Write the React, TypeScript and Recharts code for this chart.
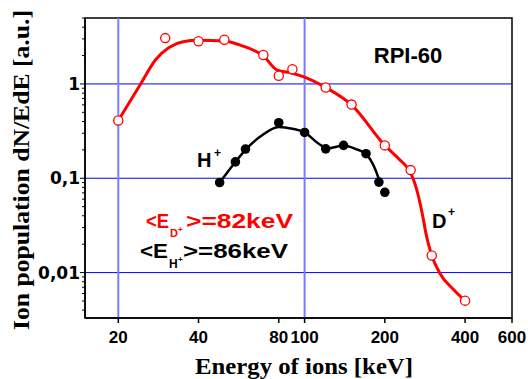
import { ComposedChart, Line, Scatter, XAxis, YAxis, ReferenceLine, ReferenceArea } from "recharts"

// measured points, D+ (open red circles)
const dPointsE = [20, 30, 40, 50, 70, 80, 90, 120, 150, 200, 250, 300, 400]
const dPointsV = [0.41, 3.06, 2.83, 2.94, 2.03, 1.22, 1.43, 0.915, 0.604, 0.223, 0.122, 0.0152, 0.00504]

// measured points, H+ (filled black circles)
const hPointsE = [48, 55, 60, 80, 100, 120, 140, 170, 190, 200]
const hPointsV = [0.09, 0.149, 0.204, 0.388, 0.306, 0.205, 0.223, 0.182, 0.091, 0.071]

// smoothed curves
const dCurveE = [20, 24, 27.7, 31, 35, 40, 50, 58, 70, 79, 90, 100, 120, 150, 200, 227, 250, 262, 276, 287, 300, 322, 362, 400]
const dCurveV = [0.41, 0.95, 1.83, 2.44, 2.8, 2.9, 2.85, 2.55, 1.98, 1.4, 1.3, 1.18, 0.915, 0.6, 0.223, 0.158, 0.114, 0.08, 0.043, 0.024, 0.0152, 0.0098, 0.0066, 0.005]

const hCurveE = [48, 55, 60, 68.6, 80, 90, 100, 114, 122, 140, 155, 170, 182, 192]
const hCurveV = [0.09, 0.149, 0.2, 0.28, 0.35, 0.335, 0.306, 0.228, 0.208, 0.222, 0.205, 0.18, 0.134, 0.09]

const xTicks = [20, 40, 80, 100, 200, 400, 600]
const yMajor = [0.01, 0.1, 1]
const yMinor = [0.004, 0.005, 0.006, 0.007, 0.008, 0.009, 0.02, 0.03, 0.04, 0.05, 0.06, 0.07, 0.08, 0.09, 0.2, 0.3, 0.4, 0.5, 0.6, 0.7, 0.8, 0.9, 2, 3, 4, 5]
const yLabels = ["0,01", "0,1", "1"]
const xGrid = [20, 100]

const zip = (e: number[], v: number[]) => e.map((x, i) => ({ e: x, v: v[i] }))
const dPoints = zip(dPointsE, dPointsV)
const hPoints = zip(hPointsE, hPointsV)
const dCurve = zip(dCurveE, dCurveV)
const hCurve = zip(hCurveE, hCurveV)

const sans = "'Liberation Sans', Arial, sans-serif"
const dejavu = "'DejaVu Sans', sans-serif"
const serif = "'Liberation Serif', 'Times New Roman', serif"

const XTick = (props: any) => {
  const { x, y, payload } = props
  return (
    <g>
      <line x1={x} x2={x} y1={y} y2={y + 5} stroke="#000" strokeWidth={1.5} />
      <text x={x} y={y + 25} textAnchor="middle" fontFamily={sans} fontWeight="bold" fontSize={17} fill="#000">
        {payload.value}
      </text>
    </g>
  )
}

const YTick = (props: any) => {
  const { x, y, payload } = props
  const idx = yMajor.indexOf(payload.value)
  const major = idx >= 0
  return (
    <g>
      <line x1={x} x2={x - (major ? 5 : 3)} y1={y} y2={y} stroke="#000" strokeWidth={1} />
      {major && (
        <text x={x - 5} y={y + 6} textAnchor="end" fontFamily={dejavu} fontWeight="bold" fontSize={17} fill="#000">
          {yLabels[idx]}
        </text>
      )}
    </g>
  )
}

const openDot = (p: any) => <circle cx={p.cx} cy={p.cy} r={4.6} fill="#fff" stroke="#ff0000" strokeWidth={1.3} />
const fullDot = (p: any) => <circle cx={p.cx} cy={p.cy} r={4.8} fill="#000" />

export default function App() {
  return (
    <div style={{ position: "absolute", left: 0, top: 0, width: 528, height: 379, background: "#fff" }}>
      <ComposedChart width={528} height={379} margin={{ top: 18, right: 16, left: 25, bottom: 31 }}>
        {yMajor.map((v) => (
          <ReferenceLine key={"h" + v} y={v} stroke="#0000ff" strokeWidth={1} />
        ))}
        {xGrid.map((v) => (
          <ReferenceLine key={"v" + v} x={v} stroke="#7b7bff" strokeWidth={2} />
        ))}
        <XAxis
          dataKey="e"
          type="number"
          scale="log"
          domain={[15, 600]}
          allowDataOverflow
          ticks={xTicks}
          interval={0}
          tick={XTick}
          tickLine={false}
          tickSize={0}
          tickMargin={0}
          height={30}
          axisLine={{ stroke: "#000", strokeWidth: 1.5 }}
        />
        <YAxis
          dataKey="v"
          type="number"
          scale="log"
          domain={[0.0033, 5]}
          allowDataOverflow
          ticks={[...yMinor, ...yMajor]}
          interval={0}
          tick={YTick}
          tickLine={false}
          tickSize={0}
          tickMargin={0}
          width={60}
          axisLine={{ stroke: "#000", strokeWidth: 1.5 }}
        />
        <ReferenceArea x1={15} x2={600} y1={0.0033} y2={5} fill="none" stroke="#000" strokeWidth={1.5} ifOverflow="visible" />
        <Line data={dCurve} dataKey="v" type="monotone" stroke="#ff0000" strokeWidth={3} dot={false} activeDot={false} isAnimationActive={false} />
        <Line data={hCurve} dataKey="v" type="monotone" stroke="#000" strokeWidth={2.5} dot={false} activeDot={false} isAnimationActive={false} />
        <Scatter data={dPoints} dataKey="v" shape={openDot} isAnimationActive={false} />
        <Scatter data={hPoints} dataKey="v" shape={fullDot} isAnimationActive={false} />
      </ComposedChart>
      <svg width={528} height={379} style={{ position: "absolute", left: 0, top: 0, pointerEvents: "none" }}>
        <text x={408} y={63} textAnchor="middle" fontFamily={sans} fontWeight="bold" fontSize={22} fill="#000">RPI-60</text>
        <text x={197} y={167} fontFamily={sans} fontWeight="bold" fontSize={20} fill="#000">H</text>
        <text x={214} y={157} fontFamily={sans} fontWeight="bold" fontSize={12} fill="#000">+</text>
        <text x={432} y={228} fontFamily={sans} fontWeight="bold" fontSize={20} fill="#000">D</text>
        <text x={448} y={216} fontFamily={sans} fontWeight="bold" fontSize={12} fill="#000">+</text>

        <text x={146} y={228} fontFamily={sans} fontWeight="bold" fontSize={20} fill="#ff0000" textLength={23} lengthAdjust="spacingAndGlyphs">&lt;E</text>
        <text x={170} y={237} fontFamily={sans} fontWeight="bold" fontSize={11} fill="#ff0000">D</text>
        <text x={178} y={232} fontFamily={sans} fontWeight="bold" fontSize={8} fill="#ff0000">+</text>
        <text x={186} y={228} fontFamily={sans} fontWeight="bold" fontSize={20} fill="#ff0000" textLength={107} lengthAdjust="spacingAndGlyphs">&gt;=82keV</text>

        <text x={140} y={258} fontFamily={sans} fontWeight="bold" fontSize={20} fill="#000" textLength={28} lengthAdjust="spacingAndGlyphs">&lt;E</text>
        <text x={169} y={268} fontFamily={sans} fontWeight="bold" fontSize={12} fill="#000">H</text>
        <text x={178} y={262} fontFamily={sans} fontWeight="bold" fontSize={8} fill="#000">+</text>
        <text x={183} y={258} fontFamily={sans} fontWeight="bold" fontSize={20} fill="#000" textLength={105} lengthAdjust="spacingAndGlyphs">&gt;=86keV</text>

        <text x={304} y={374} textAnchor="middle" fontFamily={serif} fontWeight="bold" fontSize={23} fill="#000" textLength={218} lengthAdjust="spacingAndGlyphs">Energy of ions [keV]</text>
        <text transform="translate(29,170) rotate(-90)" textAnchor="middle" fontFamily={serif} fontWeight="bold" fontSize={23} fill="#000" textLength={320} lengthAdjust="spacingAndGlyphs">Ion population dN/EdE [a.u.]</text>
      </svg>
    </div>
  )
}
